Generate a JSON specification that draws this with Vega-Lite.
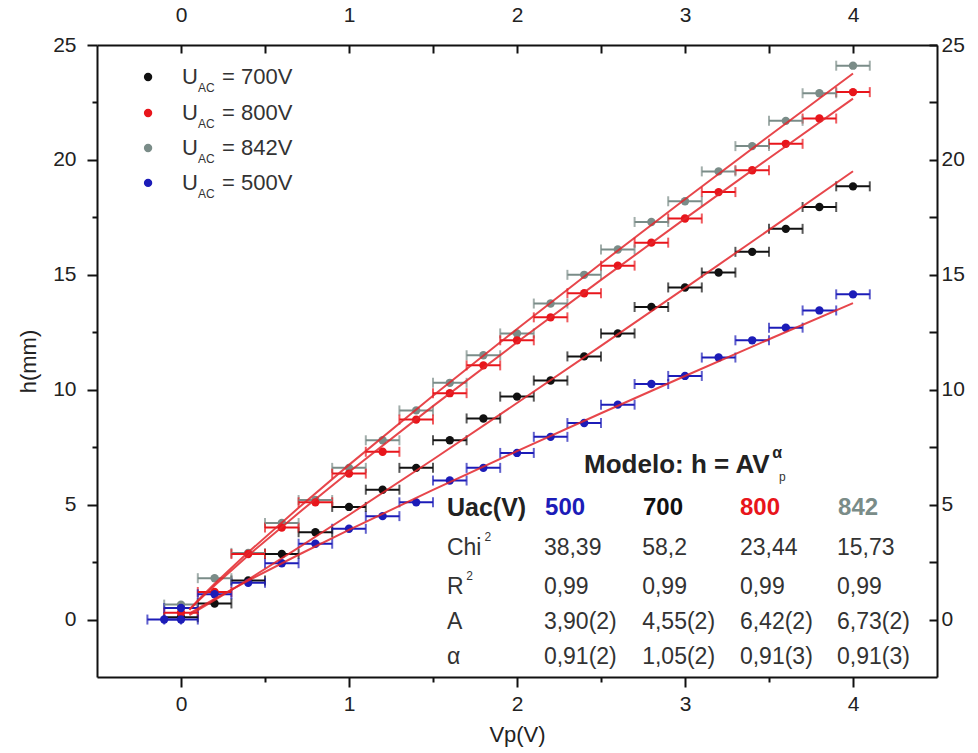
{
  "$schema": "https://vega.github.io/schema/vega-lite/v6.json",
  "width": 840,
  "height": 632,
  "autosize": "none",
  "padding": {"left": 97, "top": 45, "right": 41, "bottom": 76},
  "background": "white",
  "config": {
    "view": {"stroke": null},
    "font": "Liberation Sans",
    "axis": {
      "grid": false,
      "domainColor": "#111111",
      "domainWidth": 2,
      "tickColor": "#111111",
      "tickWidth": 2,
      "labelFont": "Liberation Sans",
      "labelFontSize": 21,
      "labelColor": "#222222",
      "labelFlush": false,
      "titleFont": "Liberation Sans",
      "titleFontSize": 22,
      "titleFontWeight": "normal",
      "titleColor": "#222222"
    }
  },
  "datasets": {
    "pts": [
      {"s": "842", "v": 0.0, "h": 0.65, "e": 0.1},
      {"s": "842", "v": 0.2, "h": 1.8, "e": 0.1},
      {"s": "842", "v": 0.4, "h": 2.9, "e": 0.1},
      {"s": "842", "v": 0.6, "h": 4.2, "e": 0.1},
      {"s": "842", "v": 0.8, "h": 5.2, "e": 0.1},
      {"s": "842", "v": 1.0, "h": 6.6, "e": 0.1},
      {"s": "842", "v": 1.2, "h": 7.8, "e": 0.1},
      {"s": "842", "v": 1.4, "h": 9.1, "e": 0.1},
      {"s": "842", "v": 1.6, "h": 10.3, "e": 0.1},
      {"s": "842", "v": 1.8, "h": 11.5, "e": 0.1},
      {"s": "842", "v": 2.0, "h": 12.45, "e": 0.1},
      {"s": "842", "v": 2.2, "h": 13.75, "e": 0.1},
      {"s": "842", "v": 2.4, "h": 15.0, "e": 0.1},
      {"s": "842", "v": 2.6, "h": 16.1, "e": 0.1},
      {"s": "842", "v": 2.8, "h": 17.3, "e": 0.1},
      {"s": "842", "v": 3.0, "h": 18.2, "e": 0.1},
      {"s": "842", "v": 3.2, "h": 19.5, "e": 0.1},
      {"s": "842", "v": 3.4, "h": 20.6, "e": 0.1},
      {"s": "842", "v": 3.6, "h": 21.7, "e": 0.1},
      {"s": "842", "v": 3.8, "h": 22.9, "e": 0.1},
      {"s": "842", "v": 4.0, "h": 24.1, "e": 0.1},
      {"s": "700", "v": 0.0, "h": 0.1, "e": 0.1},
      {"s": "700", "v": 0.2, "h": 0.7, "e": 0.1},
      {"s": "700", "v": 0.4, "h": 1.7, "e": 0.1},
      {"s": "700", "v": 0.6, "h": 2.85, "e": 0.1},
      {"s": "700", "v": 0.8, "h": 3.8, "e": 0.1},
      {"s": "700", "v": 1.0, "h": 4.9, "e": 0.1},
      {"s": "700", "v": 1.2, "h": 5.65, "e": 0.1},
      {"s": "700", "v": 1.4, "h": 6.6, "e": 0.1},
      {"s": "700", "v": 1.6, "h": 7.8, "e": 0.1},
      {"s": "700", "v": 1.8, "h": 8.75, "e": 0.1},
      {"s": "700", "v": 2.0, "h": 9.7, "e": 0.1},
      {"s": "700", "v": 2.2, "h": 10.4, "e": 0.1},
      {"s": "700", "v": 2.4, "h": 11.45, "e": 0.1},
      {"s": "700", "v": 2.6, "h": 12.45, "e": 0.1},
      {"s": "700", "v": 2.8, "h": 13.6, "e": 0.1},
      {"s": "700", "v": 3.0, "h": 14.45, "e": 0.1},
      {"s": "700", "v": 3.2, "h": 15.1, "e": 0.1},
      {"s": "700", "v": 3.4, "h": 16.0, "e": 0.1},
      {"s": "700", "v": 3.6, "h": 17.0, "e": 0.1},
      {"s": "700", "v": 3.8, "h": 17.95, "e": 0.1},
      {"s": "700", "v": 4.0, "h": 18.85, "e": 0.1},
      {"s": "800", "v": 0.0, "h": 0.3, "e": 0.1},
      {"s": "800", "v": 0.2, "h": 1.2, "e": 0.1},
      {"s": "800", "v": 0.4, "h": 2.85, "e": 0.1},
      {"s": "800", "v": 0.6, "h": 4.0, "e": 0.1},
      {"s": "800", "v": 0.8, "h": 5.1, "e": 0.1},
      {"s": "800", "v": 1.0, "h": 6.35, "e": 0.1},
      {"s": "800", "v": 1.2, "h": 7.3, "e": 0.1},
      {"s": "800", "v": 1.4, "h": 8.7, "e": 0.1},
      {"s": "800", "v": 1.6, "h": 9.85, "e": 0.1},
      {"s": "800", "v": 1.8, "h": 11.06, "e": 0.1},
      {"s": "800", "v": 2.0, "h": 12.15, "e": 0.1},
      {"s": "800", "v": 2.2, "h": 13.15, "e": 0.1},
      {"s": "800", "v": 2.4, "h": 14.2, "e": 0.1},
      {"s": "800", "v": 2.6, "h": 15.4, "e": 0.1},
      {"s": "800", "v": 2.8, "h": 16.4, "e": 0.1},
      {"s": "800", "v": 3.0, "h": 17.45, "e": 0.1},
      {"s": "800", "v": 3.2, "h": 18.6, "e": 0.1},
      {"s": "800", "v": 3.4, "h": 19.55, "e": 0.1},
      {"s": "800", "v": 3.6, "h": 20.7, "e": 0.1},
      {"s": "800", "v": 3.8, "h": 21.8, "e": 0.1},
      {"s": "800", "v": 4.0, "h": 22.95, "e": 0.1},
      {"s": "500", "v": -0.1, "h": 0.0, "e": 0.1},
      {"s": "500", "v": 0.0, "h": 0.0, "e": 0.1},
      {"s": "500", "v": 0.0, "h": 0.5, "e": 0.1},
      {"s": "500", "v": 0.2, "h": 1.1, "e": 0.1},
      {"s": "500", "v": 0.4, "h": 1.6, "e": 0.1},
      {"s": "500", "v": 0.6, "h": 2.45, "e": 0.1},
      {"s": "500", "v": 0.8, "h": 3.3, "e": 0.1},
      {"s": "500", "v": 1.0, "h": 3.95, "e": 0.1},
      {"s": "500", "v": 1.2, "h": 4.5, "e": 0.1},
      {"s": "500", "v": 1.4, "h": 5.1, "e": 0.1},
      {"s": "500", "v": 1.6, "h": 6.05, "e": 0.1},
      {"s": "500", "v": 1.8, "h": 6.6, "e": 0.1},
      {"s": "500", "v": 2.0, "h": 7.25, "e": 0.1},
      {"s": "500", "v": 2.2, "h": 7.95, "e": 0.1},
      {"s": "500", "v": 2.4, "h": 8.55, "e": 0.1},
      {"s": "500", "v": 2.6, "h": 9.35, "e": 0.1},
      {"s": "500", "v": 2.8, "h": 10.25, "e": 0.1},
      {"s": "500", "v": 3.0, "h": 10.6, "e": 0.1},
      {"s": "500", "v": 3.2, "h": 11.4, "e": 0.1},
      {"s": "500", "v": 3.4, "h": 12.15, "e": 0.1},
      {"s": "500", "v": 3.6, "h": 12.7, "e": 0.1},
      {"s": "500", "v": 3.8, "h": 13.45, "e": 0.1},
      {"s": "500", "v": 4.0, "h": 14.15, "e": 0.1}
    ],
    "fit": [
      {"s": "500", "v": 0.05, "h": 0.255}, {"s": "500", "v": 0.1, "h": 0.48}, {"s": "500", "v": 0.2, "h": 0.902},
      {"s": "500", "v": 0.4, "h": 1.694}, {"s": "500", "v": 0.7, "h": 2.819}, {"s": "500", "v": 1.0, "h": 3.9},
      {"s": "500", "v": 1.5, "h": 5.641}, {"s": "500", "v": 2.0, "h": 7.328}, {"s": "500", "v": 2.5, "h": 8.978},
      {"s": "500", "v": 3.0, "h": 10.598}, {"s": "500", "v": 3.5, "h": 12.195}, {"s": "500", "v": 4.0, "h": 13.77},
      {"s": "700", "v": 0.05, "h": 0.196}, {"s": "700", "v": 0.1, "h": 0.405}, {"s": "700", "v": 0.2, "h": 0.839},
      {"s": "700", "v": 0.4, "h": 1.739}, {"s": "700", "v": 0.7, "h": 3.129}, {"s": "700", "v": 1.0, "h": 4.55},
      {"s": "700", "v": 1.5, "h": 6.965}, {"s": "700", "v": 2.0, "h": 9.421}, {"s": "700", "v": 2.5, "h": 11.908},
      {"s": "700", "v": 3.0, "h": 14.42}, {"s": "700", "v": 3.5, "h": 16.955}, {"s": "700", "v": 4.0, "h": 19.506},
      {"s": "800", "v": 0.05, "h": 0.42}, {"s": "800", "v": 0.1, "h": 0.79}, {"s": "800", "v": 0.2, "h": 1.484},
      {"s": "800", "v": 0.4, "h": 2.789}, {"s": "800", "v": 0.7, "h": 4.64}, {"s": "800", "v": 1.0, "h": 6.42},
      {"s": "800", "v": 1.5, "h": 9.285}, {"s": "800", "v": 2.0, "h": 12.063}, {"s": "800", "v": 2.5, "h": 14.779},
      {"s": "800", "v": 3.0, "h": 17.446}, {"s": "800", "v": 3.5, "h": 20.074}, {"s": "800", "v": 4.0, "h": 22.668},
      {"s": "842", "v": 0.05, "h": 0.441}, {"s": "842", "v": 0.1, "h": 0.828}, {"s": "842", "v": 0.2, "h": 1.556},
      {"s": "842", "v": 0.4, "h": 2.924}, {"s": "842", "v": 0.7, "h": 4.864}, {"s": "842", "v": 1.0, "h": 6.73},
      {"s": "842", "v": 1.5, "h": 9.734}, {"s": "842", "v": 2.0, "h": 12.645}, {"s": "842", "v": 2.5, "h": 15.493},
      {"s": "842", "v": 3.0, "h": 18.289}, {"s": "842", "v": 3.5, "h": 21.043}, {"s": "842", "v": 4.0, "h": 23.762}
    ],
    "leg": [
      {"s": "700", "x": -0.196, "y": 23.61, "xu": 0.006, "xs": 0.101, "ys": 23.13, "xt": 0.244, "u": "U", "sub": "AC", "t": "= 700V"},
      {"s": "800", "x": -0.196, "y": 22.04, "xu": 0.006, "xs": 0.101, "ys": 21.56, "xt": 0.244, "u": "U", "sub": "AC", "t": "= 800V"},
      {"s": "842", "x": -0.196, "y": 20.52, "xu": 0.006, "xs": 0.101, "ys": 20.04, "xt": 0.244, "u": "U", "sub": "AC", "t": "= 842V"},
      {"s": "500", "x": -0.196, "y": 19.0, "xu": 0.006, "xs": 0.101, "ys": 18.52, "xt": 0.244, "u": "U", "sub": "AC", "t": "= 500V"}
    ],
    "tab": [
      {"x": 1.583, "y": 3.11, "t": "Chi"},
      {"x": 2.16, "y": 3.11, "t": "38,39"},
      {"x": 2.745, "y": 3.11, "t": "58,2"},
      {"x": 3.327, "y": 3.11, "t": "23,44"},
      {"x": 3.905, "y": 3.11, "t": "15,73"},
      {"x": 1.583, "y": 1.41, "t": "R"},
      {"x": 2.16, "y": 1.41, "t": "0,99"},
      {"x": 2.745, "y": 1.41, "t": "0,99"},
      {"x": 3.327, "y": 1.41, "t": "0,99"},
      {"x": 3.905, "y": 1.41, "t": "0,99"},
      {"x": 1.583, "y": -0.11, "t": "A"},
      {"x": 2.16, "y": -0.11, "t": "3,90(2)"},
      {"x": 2.745, "y": -0.11, "t": "4,55(2)"},
      {"x": 3.327, "y": -0.11, "t": "6,42(2)"},
      {"x": 3.905, "y": -0.11, "t": "6,73(2)"},
      {"x": 1.583, "y": -1.63, "t": "α"},
      {"x": 2.16, "y": -1.63, "t": "0,91(2)"},
      {"x": 2.745, "y": -1.63, "t": "1,05(2)"},
      {"x": 3.327, "y": -1.63, "t": "0,91(3)"},
      {"x": 3.905, "y": -1.63, "t": "0,91(3)"}
    ],
    "title": [
      {"x": 2.399, "y": 6.72, "t": "Modelo: h = AV"}
    ],
    "bold": [
      {"x": 1.583, "y": 4.85, "t": "Uac(V)"}
    ],
    "head": [
      {"s": "500", "x": 2.167, "y": 4.85},
      {"s": "700", "x": 2.75, "y": 4.85},
      {"s": "800", "x": 3.327, "y": 4.85},
      {"s": "842", "x": 3.911, "y": 4.85}
    ],
    "sup": [
      {"x": 1.806, "y": 3.6, "t": "2"},
      {"x": 1.698, "y": 1.9, "t": "2"},
      {"x": 3.56, "y": 6.2, "t": "p"}
    ],
    "alpha": [
      {"x": 3.52, "y": 7.24, "t": "α"}
    ]
  },
  "layer": [
    {
      "data": {"name": "pts"},
      "mark": {"type": "errorbar", "ticks": {"size": 10, "thickness": 2}, "thickness": 2},
      "encoding": {
        "x": {
          "field": "v", "type": "quantitative",
          "scale": {"domain": [-0.5, 4.5], "nice": false, "zero": false},
          "axis": {
            "orient": "bottom", "title": "Vp(V)",
            "values": [0, 0.5, 1, 1.5, 2, 2.5, 3, 3.5, 4],
            "labelExpr": "datum.value % 1 === 0 ? format(datum.value, 'd') : ''",
            "tickSize": {"condition": {"test": "datum.value % 1 === 0", "value": 10}, "value": 5},
            "labelPadding": 6, "titlePadding": 10
          }
        },
        "xError": {"field": "e"},
        "y": {
          "field": "h", "type": "quantitative",
          "scale": {"domain": [-2.5, 25], "nice": false, "zero": false},
          "axis": {
            "orient": "left", "title": "h(mm)",
            "values": [0, 2.5, 5, 7.5, 10, 12.5, 15, 17.5, 20, 22.5, 25],
            "labelExpr": "datum.value % 5 === 0 ? format(datum.value, 'd') : ''",
            "tickSize": {"condition": {"test": "datum.value % 5 === 0", "value": 10}, "value": 5},
            "labelPadding": 11, "titlePadding": 12
          }
        },
        "color": {
          "field": "s", "type": "nominal",
          "scale": {"domain": ["842", "700", "800", "500"], "range": ["#7a8c88", "#111111", "#e8151b", "#1c1cb8"]},
          "legend": null
        }
      }
    },
    {
      "data": {"name": "pts"},
      "mark": {"type": "point", "filled": true, "size": 70, "opacity": 1, "shape": "circle"},
      "encoding": {
        "x": {
          "field": "v", "type": "quantitative",
          "axis": {
            "orient": "top", "title": null,
            "values": [0, 0.5, 1, 1.5, 2, 2.5, 3, 3.5, 4],
            "labelExpr": "datum.value % 1 === 0 ? format(datum.value, 'd') : ''",
            "tickSize": -8, "labelPadding": 28
          }
        },
        "y": {
          "field": "h", "type": "quantitative",
          "axis": {
            "orient": "right", "title": null,
            "values": [0, 2.5, 5, 7.5, 10, 12.5, 15, 17.5, 20, 22.5, 25],
            "labelExpr": "datum.value % 5 === 0 ? format(datum.value, 'd') : ''",
            "tickSize": -8, "labelPadding": 12
          }
        },
        "color": {"field": "s", "type": "nominal", "legend": null}
      }
    },
    {
      "data": {"name": "fit"},
      "mark": {"type": "line", "color": "#e3262c", "strokeWidth": 2, "opacity": 0.85},
      "encoding": {
        "x": {"field": "v", "type": "quantitative", "axis": null},
        "y": {"field": "h", "type": "quantitative", "axis": null},
        "detail": {"field": "s"}
      }
    },
    {
      "data": {"name": "leg"},
      "mark": {"type": "point", "filled": true, "size": 70, "opacity": 1, "shape": "circle"},
      "encoding": {
        "x": {"field": "x", "type": "quantitative", "axis": null},
        "y": {"field": "y", "type": "quantitative", "axis": null},
        "color": {"field": "s", "type": "nominal", "legend": null}
      }
    },
    {
      "data": {"name": "leg"},
      "mark": {"type": "text", "align": "left", "baseline": "middle", "fontSize": 22, "color": "#333333", "font": "Liberation Sans"},
      "encoding": {
        "x": {"field": "xu", "type": "quantitative", "axis": null},
        "y": {"field": "y", "type": "quantitative", "axis": null},
        "text": {"field": "u"}
      }
    },
    {
      "data": {"name": "leg"},
      "mark": {"type": "text", "align": "left", "baseline": "middle", "fontSize": 12, "color": "#333333", "font": "Liberation Sans"},
      "encoding": {
        "x": {"field": "xs", "type": "quantitative", "axis": null},
        "y": {"field": "ys", "type": "quantitative", "axis": null},
        "text": {"field": "sub"}
      }
    },
    {
      "data": {"name": "leg"},
      "mark": {"type": "text", "align": "left", "baseline": "middle", "fontSize": 22, "color": "#333333", "font": "Liberation Sans"},
      "encoding": {
        "x": {"field": "xt", "type": "quantitative", "axis": null},
        "y": {"field": "y", "type": "quantitative", "axis": null},
        "text": {"field": "t"}
      }
    },
    {
      "data": {"name": "tab"},
      "mark": {"type": "text", "align": "left", "baseline": "middle", "fontSize": 23, "color": "#333333", "font": "Liberation Sans"},
      "encoding": {
        "x": {"field": "x", "type": "quantitative", "axis": null},
        "y": {"field": "y", "type": "quantitative", "axis": null},
        "text": {"field": "t"}
      }
    },
    {
      "data": {"name": "title"},
      "mark": {"type": "text", "align": "left", "baseline": "middle", "fontSize": 26, "fontWeight": "bold", "color": "#222222", "font": "Liberation Sans"},
      "encoding": {
        "x": {"field": "x", "type": "quantitative", "axis": null},
        "y": {"field": "y", "type": "quantitative", "axis": null},
        "text": {"field": "t"}
      }
    },
    {
      "data": {"name": "bold"},
      "mark": {"type": "text", "align": "left", "baseline": "middle", "fontSize": 25, "fontWeight": "bold", "color": "#222222", "font": "Liberation Sans"},
      "encoding": {
        "x": {"field": "x", "type": "quantitative", "axis": null},
        "y": {"field": "y", "type": "quantitative", "axis": null},
        "text": {"field": "t"}
      }
    },
    {
      "data": {"name": "head"},
      "mark": {"type": "text", "align": "left", "baseline": "middle", "fontSize": 24, "fontWeight": "bold", "font": "Liberation Sans"},
      "encoding": {
        "x": {"field": "x", "type": "quantitative", "axis": null},
        "y": {"field": "y", "type": "quantitative", "axis": null},
        "text": {"field": "s"},
        "color": {"field": "s", "type": "nominal", "legend": null}
      }
    },
    {
      "data": {"name": "sup"},
      "mark": {"type": "text", "align": "left", "baseline": "middle", "fontSize": 12, "color": "#333333", "font": "Liberation Sans"},
      "encoding": {
        "x": {"field": "x", "type": "quantitative", "axis": null},
        "y": {"field": "y", "type": "quantitative", "axis": null},
        "text": {"field": "t"}
      }
    },
    {
      "data": {"name": "alpha"},
      "mark": {"type": "text", "align": "left", "baseline": "middle", "fontSize": 16, "fontWeight": "bold", "color": "#222222", "font": "Liberation Sans"},
      "encoding": {
        "x": {"field": "x", "type": "quantitative", "axis": null},
        "y": {"field": "y", "type": "quantitative", "axis": null},
        "text": {"field": "t"}
      }
    }
  ],
  "resolve": {"axis": {"x": "independent", "y": "independent"}}
}
